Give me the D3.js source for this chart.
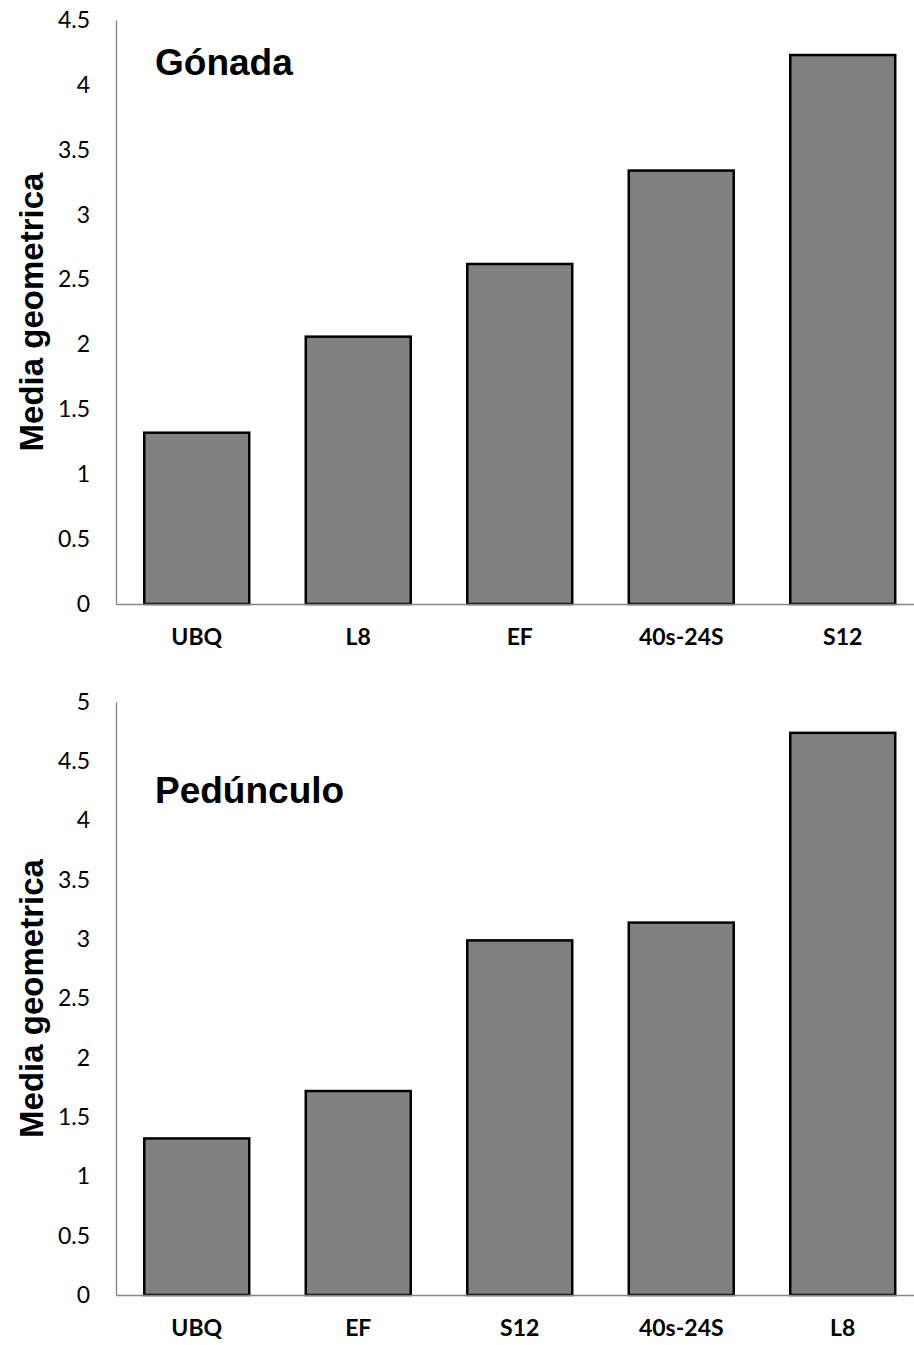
<!DOCTYPE html>
<html>
<head>
<meta charset="utf-8">
<script src="https://cdn.jsdelivr.net/npm/d3@7"></script>
<style>
  html, body { margin: 0; padding: 0; background: #fff; }
  svg { display: block; }
</style>
</head>
<body>
<svg id="chart" width="914" height="1345"></svg>
<script>
// Gónada panel
const gonadaCategories = ["UBQ", "L8", "EF", "40s-24S", "S12"];
const gonadaValues = [1.32, 2.06, 2.62, 3.34, 4.23];
const gonadaTicks = [0, 0.5, 1, 1.5, 2, 2.5, 3, 3.5, 4, 4.5];

// Pedúnculo panel
const pedunculoCategories = ["UBQ", "EF", "S12", "40s-24S", "L8"];
const pedunculoValues = [1.32, 1.72, 2.99, 3.14, 4.74];
const pedunculoTicks = [0, 0.5, 1, 1.5, 2, 2.5, 3, 3.5, 4, 4.5, 5];

const yLabel = "Media geometrica";

const svg = d3.select("#chart");

function drawPanel(opts) {
  const { categories, values, ticks, yMax, top, bottom, title, titleY } = opts;
  const left = 116, right = 923.5;

  const x = d3.scaleBand()
    .domain(categories)
    .range([left, right])
    .paddingInner(0.35)
    .paddingOuter(0.175);

  const y = d3.scaleLinear().domain([0, yMax]).range([bottom, top]);

  const g = svg.append("g");

  // bars
  g.selectAll("rect.bar")
    .data(categories.map((c, i) => ({ c, v: values[i] })))
    .join("rect")
    .attr("class", "bar")
    .attr("x", d => x(d.c))
    .attr("y", d => y(d.v))
    .attr("width", x.bandwidth())
    .attr("height", d => y(0) - y(d.v))
    .attr("fill", "#808080")
    .attr("stroke", "#000")
    .attr("stroke-width", 2.5);

  // y axis
  const yAxis = g.append("g")
    .attr("transform", `translate(${left},0)`)
    .call(d3.axisLeft(y).tickValues(ticks).tickSize(0).tickPadding(26)
      .tickFormat(d => String(d)));
  yAxis.select(".domain").attr("stroke", "#868686").attr("stroke-width", 1.3);
  yAxis.selectAll("text")
    .attr("font-family", "Lato, 'Open Sans', sans-serif")
    .attr("font-size", 23)
    .attr("fill", "#000");

  // x axis
  const xAxis = g.append("g")
    .attr("transform", `translate(0,${bottom})`)
    .call(d3.axisBottom(x).tickSize(0).tickPadding(25));
  xAxis.select(".domain").attr("stroke", "#868686").attr("stroke-width", 1.3);
  xAxis.selectAll("text")
    .attr("font-family", "Lato, 'Open Sans', sans-serif")
    .attr("font-weight", "bold")
    .attr("font-size", 23)
    .attr("fill", "#000");

  // y axis title
  g.append("text")
    .attr("transform", `translate(43,${(top + bottom) / 2}) rotate(-90)`)
    .attr("text-anchor", "middle")
    .attr("font-family", "'Liberation Sans', Arial, sans-serif")
    .attr("font-weight", "bold")
    .attr("font-size", 33)
    .text(yLabel);

  // panel title
  g.append("text")
    .attr("x", 155)
    .attr("y", titleY)
    .attr("font-family", "'Liberation Sans', Arial, sans-serif")
    .attr("font-weight", "bold")
    .attr("font-size", 37)
    .text(title);
}

drawPanel({
  categories: gonadaCategories, values: gonadaValues, ticks: gonadaTicks,
  yMax: 4.5, top: 20, bottom: 604, title: "Gónada", titleY: 75
});

drawPanel({
  categories: pedunculoCategories, values: pedunculoValues, ticks: pedunculoTicks,
  yMax: 5, top: 702, bottom: 1295, title: "Pedúnculo", titleY: 803
});
</script>
</body>
</html>
